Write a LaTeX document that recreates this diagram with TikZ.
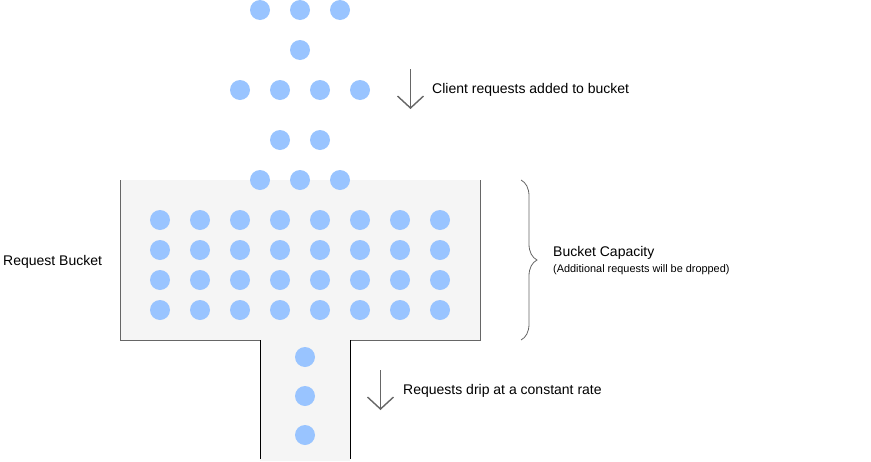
\documentclass[tikz,border=0pt]{standalone}
\usepackage{fontspec}
\setmainfont{Liberation Sans}
\usetikzlibrary{arrows.meta,decorations.pathreplacing}
\definecolor{dotblue}{RGB}{153,196,255}
\definecolor{bucketfill}{RGB}{245,245,245}
\definecolor{linegray}{RGB}{102,102,102}
\tikzset{
req/.style={
  circle,
  fill=dotblue,
  minimum size=20pt,
  inner sep=0pt
  },
flow/.style={
  draw=linegray,
  line width=1.4pt,
  -{Straight Barb[length=12pt,width=26pt,line width=1.4pt]}
  },
lbl/.style={
  anchor=west,
  inner sep=0pt,
  font=\fontsize{14}{16}\selectfont
  }
}
\begin{document}
\begin{tikzpicture}[x=1pt,y=1pt]
            \useasboundingbox (0,0) rectangle (871,-461);
            % bucket and drip pipe
            \fill[bucketfill] (120,-180) -- (120,-340) -- (260,-340) -- (260,-461)
                -- (350,-461) -- (350,-340) -- (480,-340) -- (480,-180) -- cycle;
            \draw[linegray] (120,-180) -- (120,-340) -- (260,-340);
            \draw[linegray] (350,-340) -- (480,-340) -- (480,-180);
            \draw[black] (260,-340) -- (260,-459);
            \draw[black] (350,-340) -- (350,-459);
            % incoming requests
            \foreach \x [count=\i] in {260,300,340}
                \node[req] (inA\i) at (\x,-10) {};
            \node[req] (inB1) at (300,-50) {};
            \foreach \x [count=\i] in {240,280,320,360}
                \node[req] (inC\i) at (\x,-90) {};
            \foreach \x [count=\i] in {280,320}
                \node[req] (inD\i) at (\x,-140) {};
            \foreach \x [count=\i] in {260,300,340}
                \node[req] (inE\i) at (\x,-180) {};
            % requests in the bucket
            \foreach \r in {1,...,4}
                \foreach \c in {1,...,8}
                    \node[req] (q\r\c) at (120+40*\c,-190-30*\r) {};
            % dripping requests
            \foreach \y [count=\i] in {357,396,435}
                \node[req] (drip\i) at (305,-\y) {};
            % arrows and labels
            \coordinate (inTop) at (410.5,-69);
            \coordinate (inBot) at (410.5,-109);
            \draw[flow] (inTop) -- (inBot);
            \node[lbl] (inLbl) at (432,-90) {Client requests added to bucket};
            \coordinate (outTop) at (380.5,-370);
            \coordinate (outBot) at (380.5,-410);
            \draw[flow] (outTop) -- (outBot);
            \node[lbl] (outLbl) at (403,-391) {Requests drip at a constant rate};
            \node[lbl] (bucketLbl) at (3,-262) {Request Bucket};
            % capacity brace
            \coordinate (capTop) at (521,-180);
            \coordinate (capBot) at (521,-340);
            \draw[linegray,line width=0.8pt,decorate,
                decoration={brace,amplitude=16pt}] (capTop) -- (capBot);
            \node[lbl] (capLbl) at (553,-253) {Bucket Capacity};
            \node[lbl,font=\fontsize{10.9}{12}\selectfont] (capNote) at (553,-270)
                {(Additional requests will be dropped)};
        \end{tikzpicture}
\end{document}
